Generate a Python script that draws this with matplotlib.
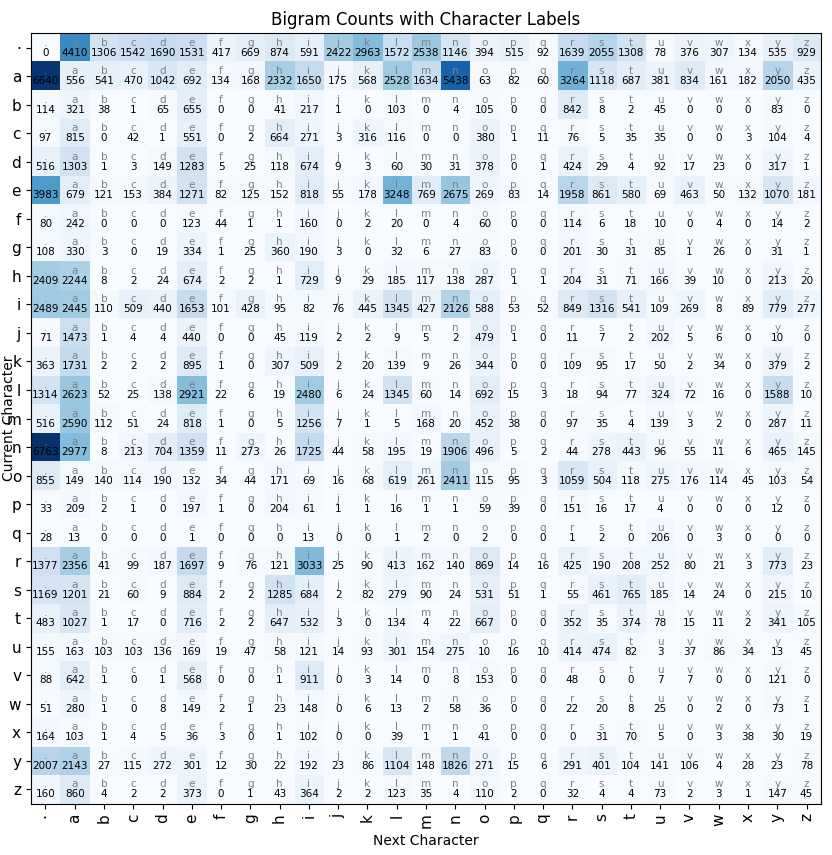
import numpy as np
import matplotlib
matplotlib.use('Agg')
import matplotlib.pyplot as plt

chars = ['.'] + [chr(c) for c in range(ord('a'), ord('z') + 1)]
tick_labels = ['·'] + chars[1:]

row_dot = [0, 4410, 1306, 1542, 1690, 1531, 417, 669, 874, 591, 2422, 2963, 1572, 2538, 1146, 394, 515, 92, 1639, 2055, 1308, 78, 376, 307, 134, 535, 929]
row_a = [6640, 556, 541, 470, 1042, 692, 134, 168, 2332, 1650, 175, 568, 2528, 1634, 5438, 63, 82, 60, 3264, 1118, 687, 381, 834, 161, 182, 2050, 435]
row_b = [114, 321, 38, 1, 65, 655, 0, 0, 41, 217, 1, 0, 103, 0, 4, 105, 0, 0, 842, 8, 2, 45, 0, 0, 0, 83, 0]
row_c = [97, 815, 0, 42, 1, 551, 0, 2, 664, 271, 3, 316, 116, 0, 0, 380, 1, 11, 76, 5, 35, 35, 0, 0, 3, 104, 4]
row_d = [516, 1303, 1, 3, 149, 1283, 5, 25, 118, 674, 9, 3, 60, 30, 31, 378, 0, 1, 424, 29, 4, 92, 17, 23, 0, 317, 1]
row_e = [3983, 679, 121, 153, 384, 1271, 82, 125, 152, 818, 55, 178, 3248, 769, 2675, 269, 83, 14, 1958, 861, 580, 69, 463, 50, 132, 1070, 181]
row_f = [80, 242, 0, 0, 0, 123, 44, 1, 1, 160, 0, 2, 20, 0, 4, 60, 0, 0, 114, 6, 18, 10, 0, 4, 0, 14, 2]
row_g = [108, 330, 3, 0, 19, 334, 1, 25, 360, 190, 3, 0, 32, 6, 27, 83, 0, 0, 201, 30, 31, 85, 1, 26, 0, 31, 1]
row_h = [2409, 2244, 8, 2, 24, 674, 2, 2, 1, 729, 9, 29, 185, 117, 138, 287, 1, 1, 204, 31, 71, 166, 39, 10, 0, 213, 20]
row_i = [2489, 2445, 110, 509, 440, 1653, 101, 428, 95, 82, 76, 445, 1345, 427, 2126, 588, 53, 52, 849, 1316, 541, 109, 269, 8, 89, 779, 277]
row_j = [71, 1473, 1, 4, 4, 440, 0, 0, 45, 119, 2, 2, 9, 5, 2, 479, 1, 0, 11, 7, 2, 202, 5, 6, 0, 10, 0]
row_k = [363, 1731, 2, 2, 2, 895, 1, 0, 307, 509, 2, 20, 139, 9, 26, 344, 0, 0, 109, 95, 17, 50, 2, 34, 0, 379, 2]
row_l = [1314, 2623, 52, 25, 138, 2921, 22, 6, 19, 2480, 6, 24, 1345, 60, 14, 692, 15, 3, 18, 94, 77, 324, 72, 16, 0, 1588, 10]
row_m = [516, 2590, 112, 51, 24, 818, 1, 0, 5, 1256, 7, 1, 5, 168, 20, 452, 38, 0, 97, 35, 4, 139, 3, 2, 0, 287, 11]
row_n = [6763, 2977, 8, 213, 704, 1359, 11, 273, 26, 1725, 44, 58, 195, 19, 1906, 496, 5, 2, 44, 278, 443, 96, 55, 11, 6, 465, 145]
row_o = [855, 149, 140, 114, 190, 132, 34, 44, 171, 69, 16, 68, 619, 261, 2411, 115, 95, 3, 1059, 504, 118, 275, 176, 114, 45, 103, 54]
row_p = [33, 209, 2, 1, 0, 197, 1, 0, 204, 61, 1, 1, 16, 1, 1, 59, 39, 0, 151, 16, 17, 4, 0, 0, 0, 12, 0]
row_q = [28, 13, 0, 0, 0, 1, 0, 0, 0, 13, 0, 0, 1, 2, 0, 2, 0, 0, 1, 2, 0, 206, 0, 3, 0, 0, 0]
row_r = [1377, 2356, 41, 99, 187, 1697, 9, 76, 121, 3033, 25, 90, 413, 162, 140, 869, 14, 16, 425, 190, 208, 252, 80, 21, 3, 773, 23]
row_s = [1169, 1201, 21, 60, 9, 884, 2, 2, 1285, 684, 2, 82, 279, 90, 24, 531, 51, 1, 55, 461, 765, 185, 14, 24, 0, 215, 10]
row_t = [483, 1027, 1, 17, 0, 716, 2, 2, 647, 532, 3, 0, 134, 4, 22, 667, 0, 0, 352, 35, 374, 78, 15, 11, 2, 341, 105]
row_u = [155, 163, 103, 103, 136, 169, 19, 47, 58, 121, 14, 93, 301, 154, 275, 10, 16, 10, 414, 474, 82, 3, 37, 86, 34, 13, 45]
row_v = [88, 642, 1, 0, 1, 568, 0, 0, 1, 911, 0, 3, 14, 0, 8, 153, 0, 0, 48, 0, 0, 7, 7, 0, 0, 121, 0]
row_w = [51, 280, 1, 0, 8, 149, 2, 1, 23, 148, 0, 6, 13, 2, 58, 36, 0, 0, 22, 20, 8, 25, 0, 2, 0, 73, 1]
row_x = [164, 103, 1, 4, 5, 36, 3, 0, 1, 102, 0, 0, 39, 1, 1, 41, 0, 0, 0, 31, 70, 5, 0, 3, 38, 30, 19]
row_y = [2007, 2143, 27, 115, 272, 301, 12, 30, 22, 192, 23, 86, 1104, 148, 1826, 271, 15, 6, 291, 401, 104, 141, 106, 4, 28, 23, 78]
row_z = [160, 860, 4, 2, 2, 373, 0, 1, 43, 364, 2, 2, 123, 35, 4, 110, 2, 0, 32, 4, 4, 73, 2, 3, 1, 147, 45]

N = np.array([row_dot, row_a, row_b, row_c, row_d, row_e, row_f, row_g, row_h,
              row_i, row_j, row_k, row_l, row_m, row_n, row_o, row_p, row_q,
              row_r, row_s, row_t, row_u, row_v, row_w, row_x, row_y, row_z])

fig = plt.figure(figsize=(8.32, 8.55), dpi=100)
ax = fig.add_axes([0.037, 0.06, 0.95, 0.901])
ax.imshow(N, cmap='Blues', aspect='auto')

for i in range(N.shape[0]):
    for j in range(N.shape[1]):
        ax.text(j, i, chars[j], ha='center', va='bottom', color='gray', fontsize=7.5)
        ax.text(j, i, str(N[i, j]), ha='center', va='top', color='black', fontsize=7.5)

ax.set_xticks(range(27))
ax.set_xticklabels(tick_labels, rotation=90, fontsize=11)
ax.set_yticks(range(27))
ax.set_yticklabels(tick_labels, fontsize=11)
ax.set_xlabel('Next Character', fontsize=10)
ax.set_ylabel('Current Character', fontsize=10)
ax.yaxis.set_label_coords(-0.019, 0.5)
ax.set_title('Bigram Counts with Character Labels', fontsize=12)

fig.savefig('out.png', dpi=100)
